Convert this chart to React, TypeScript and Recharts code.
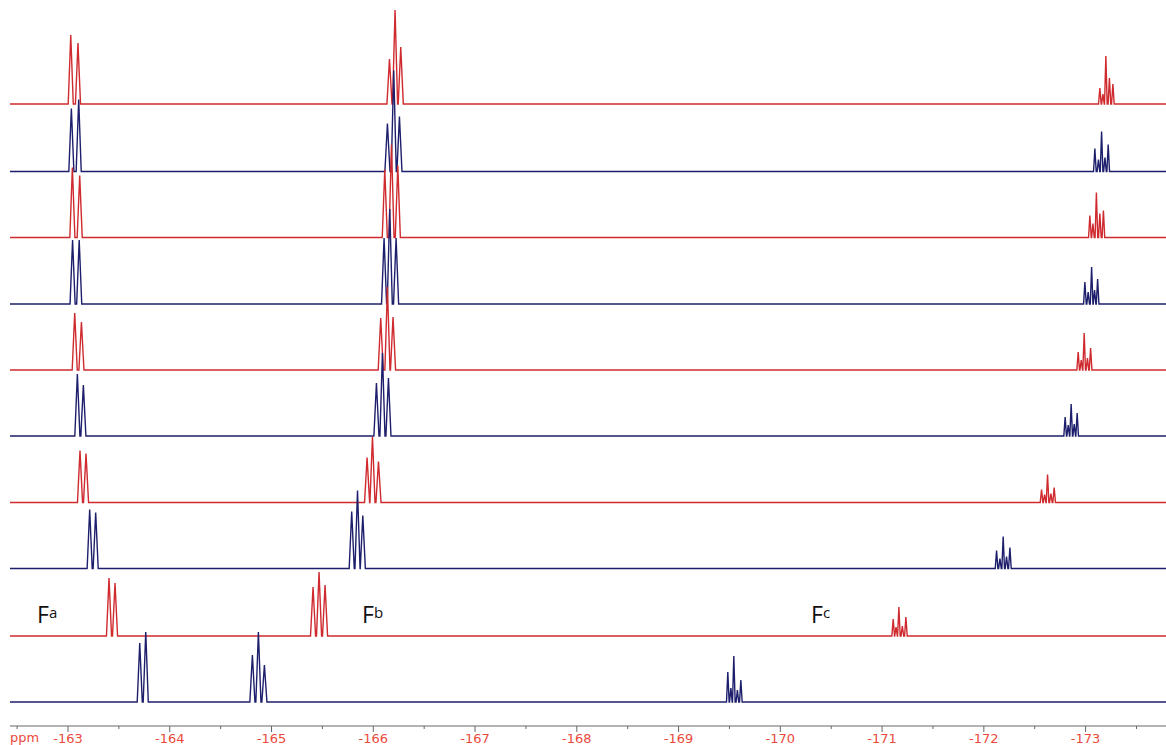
import { LineChart, Line, XAxis, YAxis } from 'recharts'

// chemical shift ticks (ppm), majors get labels
const ppmTicks = [
  -162.5, -163, -163.5, -164, -164.5, -165, -165.5, -166, -166.5, -167, -167.5,
  -168, -168.5, -169, -169.5, -170, -170.5, -171, -171.5, -172, -172.5, -173, -173.5,
]

// stacked spectra, top to bottom
const traceColors = ['red', 'blue', 'red', 'blue', 'red', 'blue', 'red', 'blue', 'red', 'blue']
const baselines = [622, 554.5, 488.5, 422, 356, 290, 223.5, 157.5, 90, 24]

// Fa doublet lines [ppm, intensity]
const faPeaks = [
  [[-163.027, 69], [-163.098, 61]],
  [[-163.033, 63], [-163.105, 72]],
  [[-163.043, 70], [-163.115, 62]],
  [[-163.045, 64], [-163.11, 64]],
  [[-163.066, 57], [-163.132, 48]],
  [[-163.092, 62], [-163.151, 51]],
  [[-163.118, 52], [-163.177, 49]],
  [[-163.213, 59], [-163.272, 56]],
  [[-163.403, 58], [-163.462, 53]],
  [[-163.705, 59], [-163.764, 70]],
]

// Fb triplet lines
const fbPeaks = [
  [[-166.159, 45], [-166.214, 94], [-166.27, 57]],
  [[-166.139, 48], [-166.201, 101], [-166.257, 55]],
  [[-166.113, 68], [-166.179, 93], [-166.241, 72]],
  [[-166.106, 66], [-166.162, 95], [-166.224, 66]],
  [[-166.073, 52], [-166.139, 83], [-166.194, 53]],
  [[-166.031, 53], [-166.09, 83], [-166.149, 58]],
  [[-165.939, 45], [-165.992, 66], [-166.051, 41]],
  [[-165.788, 57], [-165.845, 78], [-165.897, 53]],
  [[-165.408, 49], [-165.467, 64], [-165.526, 51]],
  [[-164.812, 47], [-164.871, 70], [-164.93, 37]],
]

// Fc multiplet lines
const fcPeaks = [
  [[-173.14, 16], [-173.17, 10], [-173.199, 48], [-173.234, 26], [-173.268, 20]],
  [[-173.091, 23], [-173.126, 12], [-173.157, 40], [-173.19, 14], [-173.222, 27]],
  [[-173.042, 22], [-173.072, 14], [-173.106, 45], [-173.14, 24], [-173.175, 27]],
  [[-172.993, 22], [-173.025, 12], [-173.059, 37], [-173.088, 14], [-173.118, 25]],
  [[-172.927, 18], [-172.957, 10], [-172.986, 37], [-173.018, 12], [-173.049, 22]],
  [[-172.799, 19], [-172.829, 11], [-172.858, 32], [-172.888, 12], [-172.917, 23]],
  [[-172.567, 13], [-172.597, 8], [-172.626, 28], [-172.659, 9], [-172.691, 15]],
  [[-172.125, 18], [-172.158, 10], [-172.19, 32], [-172.223, 12], [-172.256, 21]],
  [[-171.109, 17], [-171.137, 9], [-171.165, 29], [-171.199, 10], [-171.234, 19]],
  [[-169.484, 30], [-169.514, 14], [-169.543, 46], [-169.578, 12], [-169.612, 22]],
]

const X_LEFT = -162.43
const X_RIGHT = -173.79
const COLORS: Record<string, string> = { red: '#cf2a2e', blue: '#1e1f6c' }
const TICK_RED = '#ea4a3c'

// each line drawn as a narrow stick from the baseline
const buildTrace = (i: number) => {
  const base = baselines[i]
  const pts: { x: number; y: number }[] = [{ x: X_LEFT, y: base }]
  const groups: [number[][], number][] = [[faPeaks[i], 0.025], [fbPeaks[i], 0.025], [fcPeaks[i], 0.013]]
  groups.forEach(([peaks, hw]) => {
    peaks.forEach(([p, h]) => {
      pts.push({ x: p + hw, y: base }, { x: p, y: base + h }, { x: p - hw, y: base })
    })
  })
  pts.push({ x: X_RIGHT, y: base })
  return pts
}

const traces = traceColors.map((c, i) => ({ color: COLORS[c], data: buildTrace(i) }))

const PpmTick = ({ x, y, payload }: any) => {
  const v = payload.value
  const major = Number.isInteger(v)
  return (
    <g>
      <line x1={x} x2={x} y1={y} y2={y + (major ? 6 : 3)} stroke="#666" strokeWidth={1} />
      {major && (
        <text x={x} y={y + 16.5} textAnchor="middle" fill={TICK_RED} fontSize={13} fontFamily="DejaVu Sans">
          {v}
        </text>
      )}
    </g>
  )
}

export default function App() {
  return (
    <div style={{ position: 'absolute', left: 0, top: 0, width: 1166, height: 745, background: '#fff' }}>
      <LineChart width={1166} height={745} margin={{ top: 0, right: 0, left: 10, bottom: 0 }}>
        <XAxis
          type="number"
          dataKey="x"
          domain={[X_RIGHT, X_LEFT]}
          reversed
          allowDataOverflow
          ticks={ppmTicks}
          interval={0}
          tick={<PpmTick />}
          tickLine={false}
          tickSize={0}
          tickMargin={0}
          height={19}
          axisLine={{ stroke: '#666' }}
        />
        <YAxis type="number" hide domain={[0, 726]} allowDataOverflow />
        {traces.map((t, i) => (
          <Line
            key={i}
            data={t.data}
            dataKey="y"
            type="linear"
            stroke={t.color}
            strokeWidth={1.4}
            dot={false}
            activeDot={false}
            isAnimationActive={false}
          />
        ))}
      </LineChart>
      <svg width={1166} height={745} style={{ position: 'absolute', left: 0, top: 0, pointerEvents: 'none' }}>
        <text x={10} y={742.3} fill={TICK_RED} fontSize={13} fontFamily="DejaVu Sans">ppm</text>
        <g fontFamily="Open Sans" fill="#111">
          <text x={37} y={623} fontSize={23}>F<tspan fontSize={15} dy={-5}>a</tspan></text>
          <text x={362} y={623} fontSize={23}>F<tspan fontSize={15} dy={-5}>b</tspan></text>
          <text x={811} y={623} fontSize={23}>F<tspan fontSize={15} dy={-5}>c</tspan></text>
        </g>
      </svg>
    </div>
  )
}
